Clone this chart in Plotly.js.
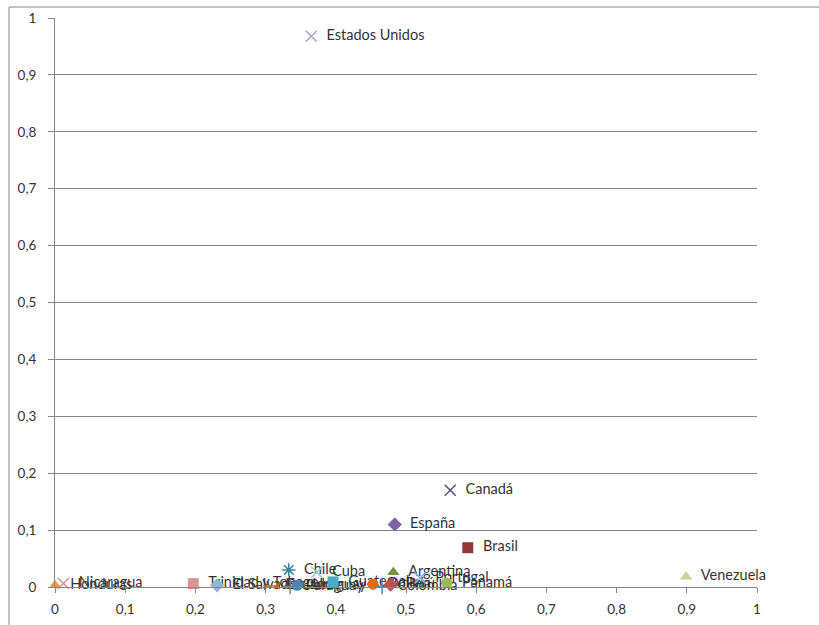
<!DOCTYPE html>
<html>
<head>
<meta charset="utf-8">
<script src="https://cdn.plot.ly/plotly-3.0.1.min.js"></script>
<style>html,body{margin:0;padding:0;background:#fff;}#chart{width:819px;height:625px;}</style>
</head>
<body>
<div id="chart"></div>
<script>
// Data
var countries = ["Honduras","Nicaragua","Trinidad y Tobago","El Salvador","Ecuador","Paraguay","Uruguay","Chile","Cuba","Guatemala","Costa Rica","Bolivia","Colombia","Perú","Argentina","Portugal","Panamá","Brasil","España","Canadá","Estados Unidos","Venezuela"];
var xValues = [0.0, 0.012, 0.197, 0.231, 0.308, 0.335, 0.345, 0.333, 0.373, 0.396, 0.405, 0.453, 0.466, 0.478, 0.482, 0.52, 0.558, 0.588, 0.484, 0.563, 0.365, 0.899];
var yValues = [0.003, 0.006, 0.006, 0.003, 0.002, 0.001, 0.003, 0.030, 0.026, 0.009, -0.004, 0.005, 0.001, 0.004, 0.026, 0.016, 0.007, 0.069, 0.110, 0.170, 0.968, 0.018];
var xTicks = [0, 0.1, 0.2, 0.3, 0.4, 0.5, 0.6, 0.7, 0.8, 0.9, 1];
var yTicks = [0, 0.1, 0.2, 0.3, 0.4, 0.5, 0.6, 0.7, 0.8, 0.9, 1];

// Styles (Excel-like series markers)
var symbols = ["triangle-up","x-thin-open","square","diamond","line-ew-open","cross-thin-open","circle","asterisk-open","x-thin-open","square","square","circle","cross-thin-open","diamond","triangle-up","x-thin-open","circle","square","diamond","x-thin-open","x-thin-open","triangle-up"];
var colors = ["#F79646","#E6898A","#D99694","#95B3D7","#E46C0A","#7F7F7F","#4F81BD","#31859C","#93CDDD","#4BACC6","#77933C","#E46C0A","#4F81BD","#C0504D","#77933C","#8EB4E3","#9BBB59","#953735","#8064A2","#604A7B","#B3A2C7","#C3D69B"];

var traces = countries.map(function(c, i){
  var open = symbols[i].indexOf("open") >= 0;
  return {
    type: "scatter",
    mode: "markers+text",
    x: [xValues[i]],
    y: [yValues[i]],
    text: ["  " + c],
    textposition: "middle right",
    textfont: {family: "Lato, 'Open Sans', sans-serif", size: 14.5, color: "#333333"},
    marker: {symbol: symbols[i], size: 11, color: colors[i],
             line: {color: colors[i], width: open ? 1.5 : 0}},
    cliponaxis: false,
    showlegend: false,
    hoverinfo: "skip"
  };
});

var layout = {
  width: 819, height: 625,
  margin: {l: 55, r: 62, t: 18, b: 38, pad: 0},
  paper_bgcolor: "#ffffff",
  plot_bgcolor: "#ffffff",
  separators: ",.",
  showlegend: false,
  font: {family: "Lato, 'Open Sans', sans-serif", size: 13.5, color: "#333333"},
  xaxis: {
    range: [0, 1], tickvals: xTicks, ticktext: xTicks.map(function(v){return String(v).replace(".", ",");}),
    showgrid: false, zeroline: false,
    showline: true, linecolor: "#868686", linewidth: 1,
    ticks: "outside", ticklen: 5, tickcolor: "#868686", tickwidth: 1,
    ticklabelstandoff: 5,
    tickfont: {size: 13.5, color: "#333333"}, fixedrange: true
  },
  yaxis: {
    range: [0, 1], tickvals: yTicks, ticktext: yTicks.map(function(v){return String(v).replace(".", ",");}),
    showgrid: true, gridcolor: "#868686", gridwidth: 1, zeroline: false,
    showline: true, linecolor: "#868686", linewidth: 1,
    ticks: "outside", ticklen: 6, tickcolor: "#868686", tickwidth: 1,
    ticklabelstandoff: 9,
    tickfont: {size: 13.5, color: "#333333"}, fixedrange: true
  },
  shapes: [{
    type: "rect", xref: "paper", yref: "paper",
    x0: -0.0655, x1: 1.3, y0: -0.2, y1: 1.0193,
    line: {color: "#868686", width: 1}, fillcolor: "rgba(0,0,0,0)", layer: "below"
  }]
};

Plotly.newPlot("chart", traces, layout, {displayModeBar: false, staticPlot: true});
</script>
</body>
</html>
